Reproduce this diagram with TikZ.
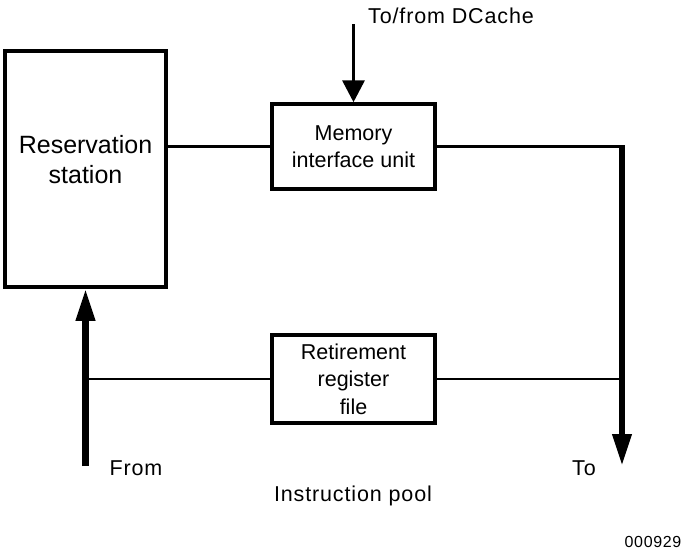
\documentclass[tikz,border=0pt]{standalone}
\usepackage{fontspec}
\setmainfont{Liberation Sans}
\newfontfamily\spacedfont[LetterSpace=4]{Liberation Sans}
\usetikzlibrary{arrows.meta}
\begin{document}
\begin{tikzpicture}[x=1pt,y=-1pt,
  unitbox/.style={draw, line width=3.5pt, rectangle, align=center, font=\fontsize{21.5}{27.5}\selectfont, inner sep=0pt},
  thin/.style={line width=2.5pt},
  thick/.style={line width=6.5pt},
  lbl/.style={font=\spacedfont\fontsize{21.5}{26}\selectfont, inner sep=0pt}]
\useasboundingbox (0,0) rectangle (688,558);
\node[unitbox, minimum width=161pt, minimum height=236pt,
  label={[name=rslabel, align=center, font=\fontsize{25}{30}\selectfont, yshift=9pt]center:Reservation\\station}] (rs) at (85.5,169) {};
\node[unitbox, minimum width=163pt, minimum height=85pt] (miu) at (353.5,146.5) {Memory\\interface unit};
\node[unitbox, minimum width=163pt, minimum height=88pt] (rrf) at (353.5,379) {Retirement\\register\\file};
\coordinate (dc) at (353.5,24);
\coordinate (tr) at (622,145);
\coordinate (to) at (622,466);
\coordinate (from) at (85.5,466);
\draw[line width=3.5pt, -{Triangle[width=22pt,length=22pt]}] (dc) -- (miu.north);
\draw[thin] (rs.east |- miu.west) -- (miu.west);
\draw[thin] (miu.east) -- (tr |- miu.east);
\draw[thick, -{Triangle[width=18pt,length=32pt]}] (tr) -- (to);
\draw[thin] (rrf.east) -- (to |- rrf.east);
\draw[thick, -{Triangle[width=18pt,length=32pt]}] (from) -- (rs.south);
\draw[thin] (from |- rrf.west) -- (rrf.west);
\node[lbl] (dct) at (451,16) {To/from DCache};
\node[lbl] (fromt) at (136,468) {From};
\node[lbl] (tot) at (584,468) {To};
\node[lbl] (pool) at (353,496) {Instruction pool};
\node[lbl, font=\spacedfont\fontsize{16}{18}\selectfont] (num) at (653,542) {000929};
\end{tikzpicture}
\end{document}
